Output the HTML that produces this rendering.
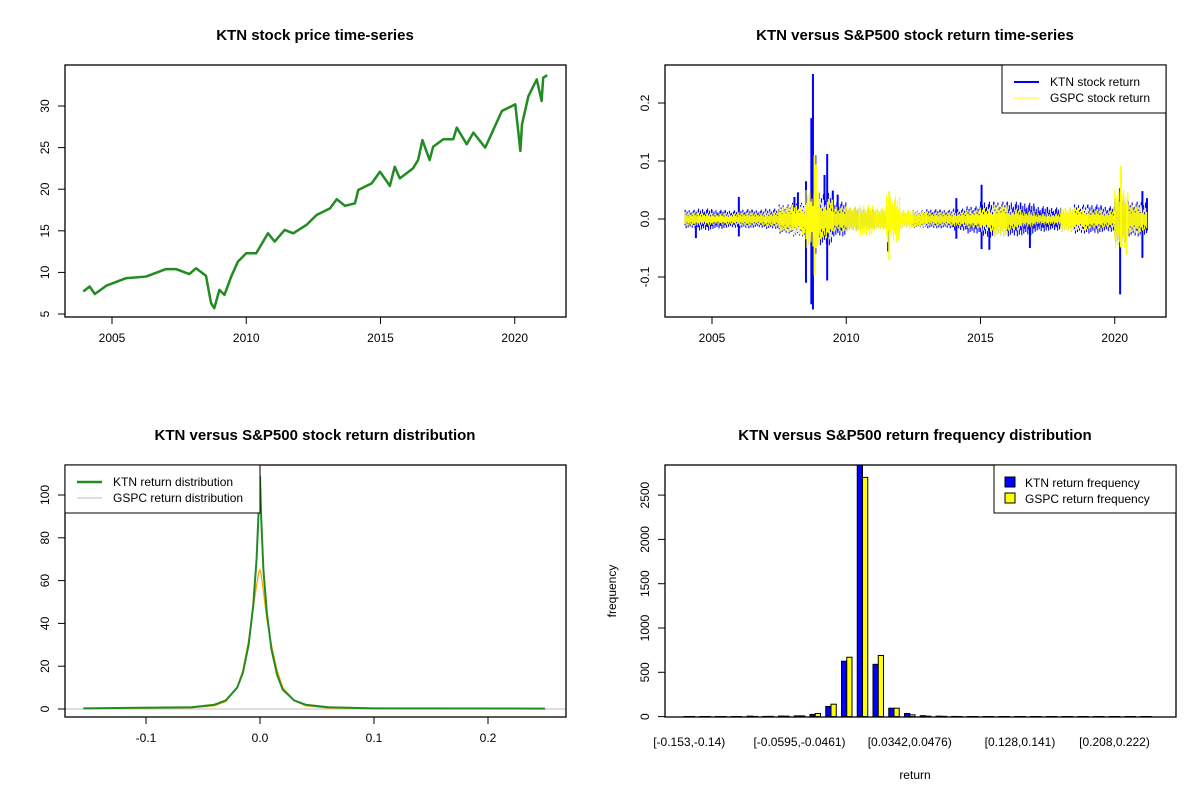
<!DOCTYPE html>
<html><head><meta charset="utf-8"><style>
body{margin:0;background:#fff;}
svg{display:block;font-family:"Liberation Sans",Arial,sans-serif;}
</style></head><body>
<svg id="s" width="1200" height="800" viewBox="0 0 1200 800"></svg>
<script>
// ---- Panel 1: price ----
const priceYears=[2003.93,2004.17,2004.36,2004.79,2005.52,2006.27,2007.01,2007.38,2007.88,2008.13,2008.5,2008.69,2008.81,2009.0,2009.19,2009.44,2009.69,2010.0,2010.37,2010.81,2011.06,2011.43,2011.75,2012.24,2012.62,2013.12,2013.37,2013.68,2014.05,2014.17,2014.67,2014.98,2015.35,2015.53,2015.72,2016.21,2016.4,2016.56,2016.83,2016.96,2017.34,2017.71,2017.84,2018.21,2018.46,2018.9,2019.21,2019.52,2020.02,2020.21,2020.27,2020.51,2020.82,2021.0,2021.06,2021.21];
const priceVals=[7.7,8.3,7.4,8.4,9.3,9.5,10.4,10.4,9.8,10.5,9.6,6.3,5.7,7.9,7.3,9.5,11.3,12.3,12.3,14.7,13.7,15.1,14.7,15.7,16.9,17.7,18.8,18.0,18.3,19.9,20.7,22.1,20.4,22.7,21.3,22.5,23.5,25.9,23.5,25.1,26.0,26.0,27.4,25.4,26.8,25.0,27.2,29.4,30.2,24.6,27.8,31.2,33.2,30.6,33.4,33.7];
const yearTicks=[2005,2010,2015,2020];
const priceTicks=[5,10,15,20,25,30];
// ---- Panel 2: returns ----
const envYears=[2004,2004.5,2005,2005.5,2006,2006.5,2007,2007.5,2008,2008.5,2009,2009.5,2010,2010.5,2011,2011.5,2012,2012.5,2013,2013.5,2014,2014.5,2015,2015.5,2016,2016.5,2017,2017.5,2018,2018.5,2019,2019.5,2020,2020.5,2021];
const ktnHi=[0.016,0.018,0.016,0.015,0.017,0.016,0.018,0.025,0.028,0.05,0.045,0.03,0.02,0.018,0.017,0.02,0.016,0.015,0.017,0.016,0.018,0.022,0.03,0.03,0.03,0.028,0.022,0.02,0.02,0.025,0.025,0.022,0.035,0.03,0.03];
const ktnLo=[-0.016,-0.02,-0.017,-0.015,-0.016,-0.015,-0.017,-0.025,-0.03,-0.05,-0.045,-0.03,-0.02,-0.018,-0.017,-0.022,-0.016,-0.015,-0.016,-0.016,-0.02,-0.025,-0.032,-0.03,-0.03,-0.028,-0.022,-0.02,-0.022,-0.025,-0.025,-0.022,-0.04,-0.03,-0.03];
const gspcHi=[0.012,0.011,0.01,0.01,0.012,0.011,0.013,0.022,0.025,0.05,0.035,0.022,0.022,0.025,0.02,0.04,0.016,0.014,0.012,0.012,0.013,0.016,0.02,0.025,0.018,0.014,0.01,0.01,0.02,0.02,0.017,0.015,0.05,0.025,0.02];
const gspcLo=[-0.012,-0.011,-0.01,-0.01,-0.012,-0.011,-0.013,-0.022,-0.028,-0.05,-0.035,-0.022,-0.022,-0.03,-0.02,-0.04,-0.016,-0.014,-0.012,-0.012,-0.013,-0.016,-0.022,-0.03,-0.02,-0.014,-0.01,-0.01,-0.022,-0.02,-0.017,-0.015,-0.05,-0.025,-0.02];
const ktnSpikeYears=[2004.4,2006.0,2008.07,2008.2,2008.5,2008.7,2008.76,2008.85,2009.19,2009.29,2009.5,2009.68,2011.56,2014.1,2015.04,2015.33,2016.84,2020.2,2021.03,2021.2];
const ktnSpikeHi=[0.01,0.038,0.038,0.046,0.065,0.174,0.25,0.11,0.076,0.112,0.049,0.042,0.01,0.036,0.059,0.02,0.01,0.053,0.048,0.036];
const ktnSpikeLo=[-0.033,-0.03,-0.01,-0.01,-0.11,-0.147,-0.156,-0.06,-0.03,-0.106,-0.02,-0.02,-0.056,-0.034,-0.052,-0.053,-0.05,-0.13,-0.067,-0.02];
const gspcSpikeYears=[2008.82,2008.87,2011.6,2020.23,2020.44];
const gspcSpikeHi=[0.11,0.094,0.048,0.091,0.03];
const gspcSpikeLo=[-0.097,-0.05,-0.07,-0.049,-0.061];
const retTicks=[-0.1,0,0.1,0.2];
// ---- Panel 3: density ----
const densX=[-0.155,-0.06,-0.04,-0.03,-0.02,-0.015,-0.01,-0.006,-0.003,-0.001,0,0.001,0.003,0.006,0.01,0.015,0.02,0.03,0.04,0.06,0.1,0.25];
const ktnDens=[0.3,0.8,2,4,10,17,30,48,70,95,109,90,65,45,28,16,9,4,2,0.8,0.3,0.2];
const gspcDens=[0.2,0.6,1.5,3.5,10,18,32,47,58,64,65,63,55,42,30,18,10,4,1.5,0.5,0.2,0.2];
const densXTicks=[-0.1,0,0.1,0.2];
const densYTicks=[0,20,40,60,80,100];
// ---- Panel 4: histogram ----
const binLabels=["[-0.153,-0.14)","[-0.0595,-0.0461)","[0.0342,0.0476)","[0.128,0.141)","[0.208,0.222)"];
const binLabelIdx=[0,7,14,21,27];
const ktnFreq=[1,1,1,1,5,2,6,8,25,115,625,3000,590,95,35,10,5,2,1,1,1,1,1,1,1,1,1,1,1,1];
const gspcFreq=[1,1,1,1,2,3,5,8,35,140,670,2700,690,95,20,5,3,1,1,1,1,1,1,1,1,1,1,1,1,1];
const freqTicks=[0,500,1000,1500,2000,2500];

const NS="http://www.w3.org/2000/svg";
const svg=document.getElementById('s');
function el(tag,attrs,parent,text){const e=document.createElementNS(NS,tag);for(const k in attrs)e.setAttribute(k,attrs[k]);if(text!==undefined)e.textContent=text;(parent||svg).appendChild(e);return e;}
function grp(name){const g=el('g',{});return g;}
function title(txt,x,y,name){const t=el('text',{x:x,y:y,'text-anchor':'middle','font-size':15,'font-weight':'bold'},svg,txt);}
function box(x0,y0,x1,y1,name){const r=el('rect',{x:x0,y:y0,width:x1-x0,height:y1-y0,fill:'none',stroke:'#000','stroke-width':1.3});}
const f1=v=>v.toFixed(1);
const fi=v=>String(v);
function xAxis(ticks,fx,y,fmt,name){const g=grp(name);ticks.forEach(t=>{const x=fx(t);el('line',{x1:x,x2:x,y1:y,y2:y+7,stroke:'#000'},g);const tx=el('text',{x:x,y:y+25,'text-anchor':'middle','font-size':12},g,fmt(t));});}
function yAxis(ticks,fy,x,fmt,name){const g=grp(name);ticks.forEach(t=>{const y=fy(t);el('line',{x1:x,x2:x-7,y1:y,y2:y,stroke:'#000'},g);const tx=el('text',{x:x-16,y:y,'text-anchor':'middle','font-size':12,transform:`rotate(-90 ${x-16} ${y})`},g,fmt(t));});}

// Panel 1
const fxY1=v=>112+(v-2005)*26.85;
const fy1=v=>314-(v-5)*8.32;
title('KTN stock price time-series',315,40,'price-title');
{const g=grp('price-line');el('polyline',{points:priceYears.map((y,i)=>fxY1(y)+','+fy1(priceVals[i])).join(' '),fill:'none',stroke:'#228B22','stroke-width':2.5,'stroke-linejoin':'round'},g);}
box(65,65,566,317,'price-plot-box');
xAxis(yearTicks,fxY1,317,fi,'price-x-axis');
yAxis(priceTicks,fy1,65,fi,'price-y-axis');

// Panel 2
const fxY2=v=>712+(v-2005)*26.85;
const fy2=v=>219-v*580;
title('KTN versus S&P500 stock return time-series',915,40,'return-title');
const PH=[1,0.55,0.8,0.4,0.95,0.6,0.7,0.45,0.85];
const PL=[0.7,1,0.5,0.9,0.6,0.8,0.45,0.95,0.65];
function envelope(hi,lo,color,name){const g=grp(name);for(let i=0;i<envYears.length;i++){const xa=fxY2(envYears[i]),xb=Math.min(fxY2(Math.min(envYears[i]+0.5,2021.2)),1150);for(let x=xa,k=0;x<xb;x+=1,k++){el('line',{x1:x,x2:x,y1:fy2(hi[i]*PH[k%9]),y2:fy2(lo[i]*PL[k%9]),stroke:color,'stroke-width':1.1},g);}}return g;}
function spikes(ys,hi,lo,color,g){ys.forEach((y,i)=>{el('line',{x1:fxY2(y),x2:fxY2(y),y1:fy2(hi[i]),y2:fy2(lo[i]),stroke:color,'stroke-width':2},g);});}
{const g=envelope(ktnHi,ktnLo,'#0000FF','ktn-return-series');spikes(ktnSpikeYears,ktnSpikeHi,ktnSpikeLo,'#0000FF',g);}
{const g=envelope(gspcHi,gspcLo,'#FFFF00','gspc-return-series');spikes(gspcSpikeYears,gspcSpikeHi,gspcSpikeLo,'#FFFF00',g);}
box(665,65,1166,317,'return-plot-box');
xAxis(yearTicks,fxY2,317,fi,'return-x-axis');
yAxis(retTicks,fy2,665,f1,'return-y-axis');
{const g=grp('return-legend');el('rect',{x:1002,y:65,width:164,height:48,fill:'#fff',stroke:'#000'},g);
el('line',{x1:1014,x2:1039,y1:82,y2:82,stroke:'#0000FF','stroke-width':2},g);el('text',{x:1050,y:86,'font-size':12},g,'KTN stock return');
el('line',{x1:1014,x2:1039,y1:98,y2:98,stroke:'#FFFF00','stroke-width':1},g);el('text',{x:1050,y:102,'font-size':12},g,'GSPC stock return');}

// Panel 3
const fx3=v=>260+v*1140;
const fy3=v=>709-v*2.14;
title('KTN versus S&P500 stock return distribution',315,440,'density-title');
el('line',{x1:65,x2:566,y1:fy3(0),y2:fy3(0),stroke:'#bebebe'});
{const g=grp('gspc-density-line');el('polyline',{points:densX.map((x,i)=>fx3(x)+','+fy3(gspcDens[i])).join(' '),fill:'none',stroke:'#FFA500','stroke-width':1.3},g);}
{const g=grp('ktn-density-line');el('polyline',{points:densX.map((x,i)=>fx3(x)+','+fy3(ktnDens[i])).join(' '),fill:'none',stroke:'#228B22','stroke-width':2},g);}
box(65,465,566,717,'density-plot-box');
xAxis(densXTicks,fx3,717,f1,'density-x-axis');
yAxis(densYTicks,fy3,65,fi,'density-y-axis');
{const g=grp('density-legend');el('rect',{x:65,y:465,width:195,height:48,fill:'#fff',stroke:'#000'},g);
el('line',{x1:77,x2:102,y1:482,y2:482,stroke:'#228B22','stroke-width':2.5},g);el('text',{x:113,y:486,'font-size':12},g,'KTN return distribution');
el('line',{x1:77,x2:102,y1:498,y2:498,stroke:'#bebebe','stroke-width':1},g);el('text',{x:113,y:502,'font-size':12},g,'GSPC return distribution');}

// Panel 4
const U=5.25;
const fx4=i=>684+i*3*U;
const fy4=v=>Math.max(465,716.6-v*0.0886);
title('KTN versus S&P500 return frequency distribution',915,440,'histogram-title');
{const gk=grp('ktn-bars'),gg=grp('gspc-bars');
ktnFreq.forEach((v,i)=>{const r=el('rect',{x:fx4(i),y:fy4(v),width:U,height:716.6-fy4(v),fill:'#0000FF',stroke:'#000','stroke-width':1},gk);});
gspcFreq.forEach((v,i)=>{const r=el('rect',{x:fx4(i)+U,y:fy4(v),width:U,height:716.6-fy4(v),fill:'#FFFF00',stroke:'#000','stroke-width':1},gg);});}
box(665,465,1176,717,'histogram-plot-box');
{const g=grp('histogram-x-labels');binLabelIdx.forEach((b,i)=>{el('text',{x:fx4(b)+U,y:746,'text-anchor':'middle','font-size':12},g,binLabels[i]);});}
yAxis(freqTicks,fy4,665,fi,'histogram-y-axis');
{const t=el('text',{x:915,y:779,'text-anchor':'middle','font-size':12},svg,'return');
const t2=el('text',{x:616,y:591,'text-anchor':'middle','font-size':12,transform:'rotate(-90 616 591)'},svg,'frequency');}
{const g=grp('histogram-legend');el('rect',{x:994,y:465,width:182,height:48,fill:'#fff',stroke:'#000'},g);
el('rect',{x:1005,y:477,width:10,height:10,fill:'#0000FF',stroke:'#000'},g);el('text',{x:1025,y:487,'font-size':12},g,'KTN return frequency');
el('rect',{x:1005,y:493,width:10,height:10,fill:'#FFFF00',stroke:'#000'},g);el('text',{x:1025,y:503,'font-size':12},g,'GSPC return frequency');}
</script>
</body></html>
